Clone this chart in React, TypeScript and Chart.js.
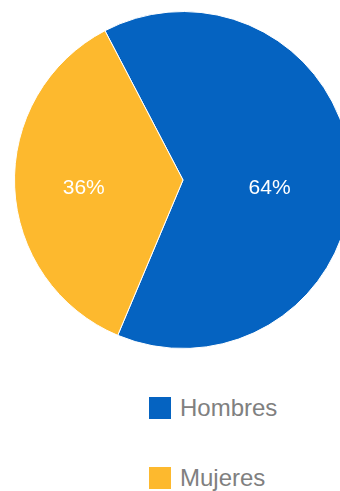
import React, { useEffect, useRef } from "react";
import { Chart, registerables } from "chart.js";

Chart.register(...registerables);

const categories = ["Hombres", "Mujeres"];
const values = [64, 36];
const valueLabels = ["64%", "36%"];
const colors = ["#0563C1", "#FDB92E"];

const labelPlugin = {
  id: "sliceLabels",
  afterDatasetsDraw(chart: any) {
    const ctx = chart.ctx;
    const meta = chart.getDatasetMeta(0);
    const total = values.reduce((a, b) => a + b, 0);
    ctx.save();
    ctx.fillStyle = "#ffffff";
    ctx.font = "21px 'Liberation Sans', Arial, sans-serif";
    ctx.textAlign = "center";
    ctx.textBaseline = "middle";
    meta.data.forEach((arc: any, i: number) => {
      const p = arc.getProps(["x", "y", "startAngle", "endAngle", "outerRadius"], true);
      const mid = (p.startAngle + p.endAngle) / 2;
      const frac = values[i] / total;
      const r = p.outerRadius * (0.686 - 0.268 * frac);
      const x = p.x + Math.cos(mid) * r;
      const y = p.y + 8;
      ctx.fillText(valueLabels[i], x, y);
    });
    ctx.restore();
  },
};

export default function App() {
  const ref = useRef<HTMLCanvasElement>(null);
  useEffect(() => {
    if (!ref.current) return;
    const chart = new Chart(ref.current, {
      type: "pie",
      data: {
        labels: categories,
        datasets: [
          {
            data: values,
            backgroundColor: colors,
            borderColor: "#ffffff",
            borderWidth: 1,
          },
        ],
      },
      options: {
        responsive: false,
        animation: false,
        rotation: -27.6,
        layout: { padding: { top: 11, bottom: 11, left: 0, right: 0 } },
        plugins: {
          legend: { display: false },
          tooltip: { enabled: false },
        },
      },
      plugins: [labelPlugin],
    });
    return () => chart.destroy();
  }, []);

  const legendText: React.CSSProperties = {
    position: "absolute",
    left: 180,
    fontFamily: "'Liberation Sans', Arial, sans-serif",
    fontSize: 24,
    color: "#808080",
    lineHeight: "24px",
    whiteSpace: "nowrap",
  };
  const sq: React.CSSProperties = { position: "absolute", left: 149, width: 22, height: 22 };

  return (
    <div
      style={{
        position: "fixed",
        left: 0,
        top: 0,
        width: 340,
        height: 491,
        overflow: "hidden",
        background: "#ffffff",
      }}
    >
      <canvas ref={ref} width={366} height={360} style={{ position: "absolute", left: 0, top: 0 }} />
      <div style={{ ...sq, top: 397, background: colors[0] }} />
      <div style={{ ...legendText, top: 396 }}>{categories[0]}</div>
      <div style={{ ...sq, top: 467, background: colors[1] }} />
      <div style={{ ...legendText, top: 466 }}>{categories[1]}</div>
    </div>
  );
}
